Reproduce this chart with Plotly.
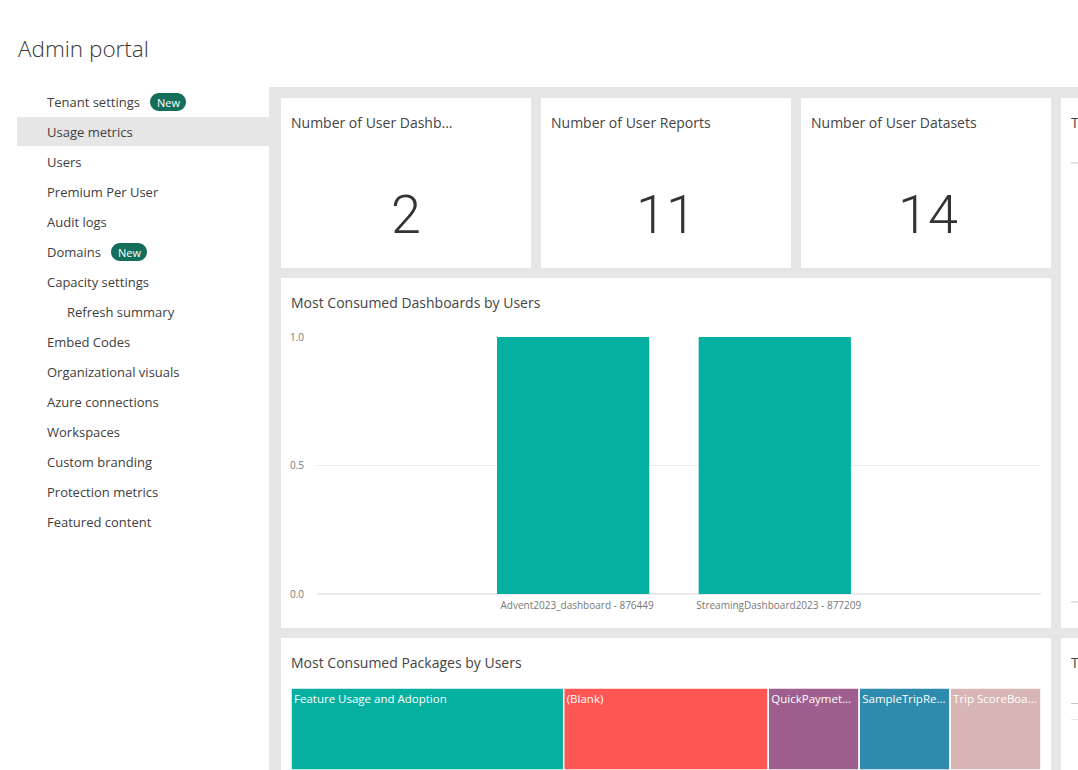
import plotly.graph_objects as go

W = 1078
H = 770

nav_items = ['Tenant settings', 'Usage metrics', 'Users', 'Premium Per User', 'Audit logs', 'Domains',
             'Capacity settings', 'Refresh summary', 'Embed Codes', 'Organizational visuals',
             'Azure connections', 'Workspaces', 'Custom branding', 'Protection metrics', 'Featured content']
nav_indent = ['Refresh summary']

kpi_titles = ['Number of User Dashb...', 'Number of User Reports', 'Number of User Datasets']
kpi_values = ['2', '11', '14']

dashboards = ['Advent2023_dashboard - 876449', 'StreamingDashboard2023 - 877209']
dashboard_users = [1, 1]

packages = ['Feature Usage and Adoption', '(Blank)', 'QuickPaymet...', 'SampleTripRe...', 'Trip ScoreBoa...']
package_users = [6, 4.5, 2, 2, 2]
package_colors = ['#05B0A0', '#FE5753', '#9E5F8E', '#2E8BAE', '#D8B6B5']

TEXT_FONT = 'Open Sans'
GREY = '#E6E6E6'


def px_x(x):
    return x / W


def px_y(y):
    return 1 - y / H


def rect(x0, y0, x1, y1, color):
    return dict(type='rect', xref='paper', yref='paper', layer='below',
                x0=px_x(x0), x1=px_x(x1), y0=px_y(y0), y1=px_y(y1),
                fillcolor=color, line_width=0)


def pill(x0, y0, x1, y1, color):
    r = (y1 - y0) / 2
    k = r * 0.55
    pts = [('M', x0 + r, y0), ('L', x1 - r, y0),
           ('C', x1 - r + k, y0, x1, y0 + r - k, x1, y0 + r),
           ('C', x1, y0 + r + k, x1 - r + k, y1, x1 - r, y1),
           ('L', x0 + r, y1),
           ('C', x0 + r - k, y1, x0, y0 + r + k, x0, y0 + r),
           ('C', x0, y0 + r - k, x0 + r - k, y0, x0 + r, y0)]
    path = ''
    for p in pts:
        coords = p[1:]
        pairs = ['%.5f,%.5f' % (px_x(coords[i]), px_y(coords[i + 1])) for i in range(0, len(coords), 2)]
        path += p[0] + ' '.join(pairs) + ' '
    return dict(type='path', xref='paper', yref='paper', layer='below', path=path + 'Z',
                fillcolor=color, line_width=0)


def label(x, y, text, size=14, color='#444444', anchor='left', family=TEXT_FONT, weight=None):
    return dict(xref='paper', yref='paper', x=px_x(x), y=px_y(y), text=text, showarrow=False,
                xanchor=anchor, yanchor='middle', borderpad=0, borderwidth=0,
                font=dict(family=family, size=size, color=color, weight=weight))


shapes = [
    rect(269, 87, W, H, GREY),
    rect(17, 117, 269, 146, GREY),
    rect(281, 98, 531, 268, 'white'),
    rect(541, 98, 791, 268, 'white'),
    rect(801, 98, 1051, 268, 'white'),
    rect(1061, 98, W, 628, 'white'),
    rect(281, 278, 1051, 628, 'white'),
    rect(281, 638, 1051, H, 'white'),
    rect(1061, 638, W, H, 'white'),
    rect(1071, 162.5, W, 163.5, '#C8C8C8'),
    rect(1071, 601.5, W, 602.5, '#C8C8C8'),
    rect(1071, 703, W, 704, '#C8C8C8'),
    rect(1071, 719, W, 720, '#E8E8E8'),
    pill(150, 93, 186, 111, '#136F5B'),
    pill(111, 243, 147, 261, '#136F5B'),
]

annotations = [label(18, 49, 'Admin portal', size=22.5, color='#3A3A3A', weight=300)]

for i, item in enumerate(nav_items):
    x = 67 if item in nav_indent else 47
    annotations.append(label(x, 102 + i * 30, item, size=13, color='#404040'))
annotations.append(label(168, 102.5, 'New', size=11, color='white', anchor='center'))
annotations.append(label(129, 252.5, 'New', size=11, color='white', anchor='center'))

kpi_left = [291, 551, 811]
kpi_center = [406, 666, 928]
for left, center, title, value in zip(kpi_left, kpi_center, kpi_titles, kpi_values):
    annotations.append(label(left, 122.5, title, size=14, color='#444444'))
    annotations.append(label(center, 214.5, value, size=54, color='#333333', anchor='center',
                             family='Roboto', weight=300))

annotations.append(label(291, 302.5, 'Most Consumed Dashboards by Users', size=14, color='#444444'))
annotations.append(label(291, 662.5, 'Most Consumed Packages by Users', size=14, color='#444444'))
annotations.append(label(1071, 122.5, 'T', size=14, color='#444444'))
annotations.append(label(1071, 662.5, 'T', size=14, color='#444444'))

fig = go.Figure()

fig.add_trace(go.Bar(x=dashboards, y=dashboard_users, width=0.755,
                     marker=dict(color='#05B0A0', line_width=0), hoverinfo='skip'))

fig.add_trace(go.Treemap(labels=packages, parents=[''] * len(packages), values=package_users,
                         sort=False, text=packages, textinfo='label', textposition='top left',
                         textfont=dict(family=TEXT_FONT, size=11.5, color='white'),
                         marker=dict(colors=package_colors, line=dict(color='white', width=1.5), pad=dict(t=0, l=0, r=0, b=0)),
                         tiling=dict(packing='slice-dice', pad=0),
                         pathbar=dict(visible=False), hoverinfo='skip',
                         domain=dict(x=[px_x(291), px_x(1041)], y=[0, px_y(688)])))

fig.update_layout(
    width=W, height=H,
    margin=dict(l=0, r=0, t=0, b=0, pad=0, autoexpand=False),
    paper_bgcolor='white', plot_bgcolor='rgba(0,0,0,0)',
    showlegend=False, shapes=shapes, annotations=annotations,
    font=dict(family=TEXT_FONT),
    xaxis=dict(domain=[px_x(317), px_x(1041)], type='category', range=[-1.27, 2.32],
               showgrid=False, zeroline=False, showline=False,
               ticks='outside', ticklen=2, tickcolor='rgba(0,0,0,0)',
               ticklabelshift=4, tickangle=0,
               tickfont=dict(family=TEXT_FONT, size=10, color='#777777')),
    yaxis=dict(domain=[px_y(594), px_y(337)], range=[0, 1], tickvals=[0, 0.5, 1],
               ticktext=['0.0', '0.5', '1.0'], showgrid=True, gridcolor='#EAEAEA', gridwidth=1,
               zeroline=True, zerolinecolor='#EAEAEA', showline=False,
               ticks='outside', ticklen=10, tickcolor='rgba(0,0,0,0)',
               tickfont=dict(family=TEXT_FONT, size=10, color='#777777')),
)

fig.write_html('out.html', config=dict(displayModeBar=False),
               post_script="document.body.style.margin='0';")
